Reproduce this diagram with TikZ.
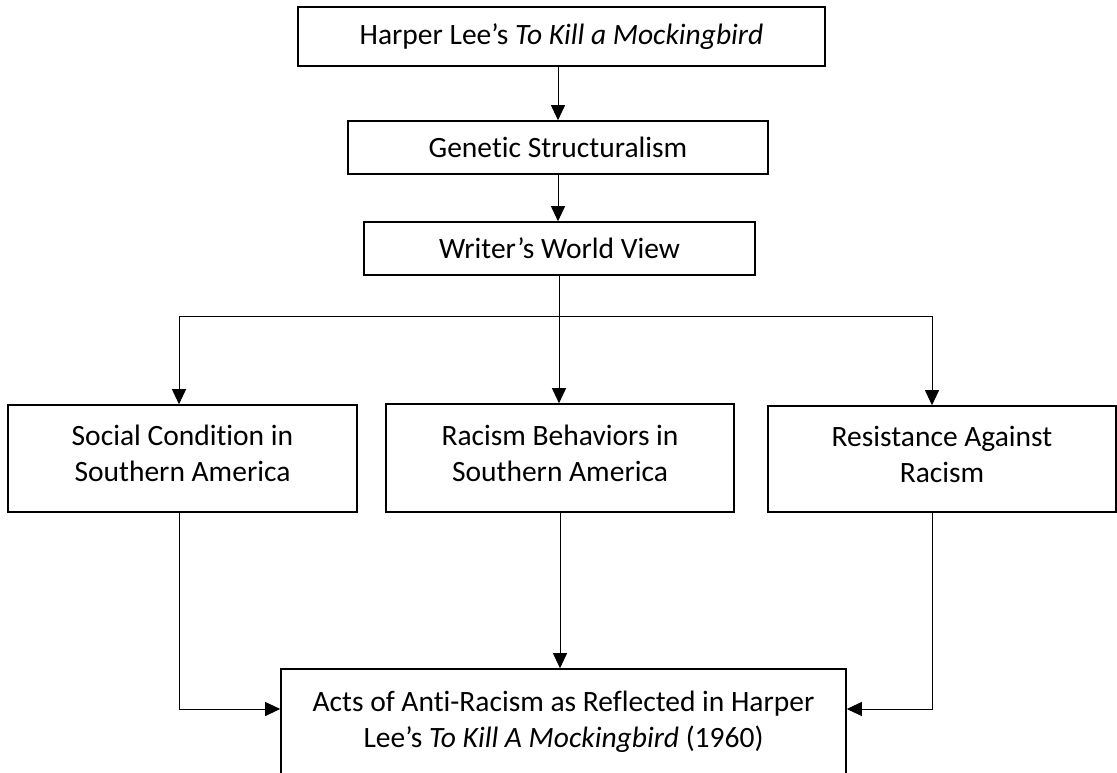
\documentclass[tikz,border=0pt]{standalone}
\usepackage{fontspec}
\setmainfont[Ligatures=CommonOff]{Carlito}
\usepackage{tikz}
\usetikzlibrary{arrows.meta,positioning}

\begin{document}
\begin{tikzpicture}[x=1pt,y=-1pt,inner sep=0pt,
  box/.style={rectangle,draw=black,line width=1.6pt,align=center,font=\fontsize{29.5}{36}\selectfont},
  link/.style={draw=black,line width=0.9pt},
  arr/.style={link,-{Triangle[length=15pt,width=14pt]}}]
\useasboundingbox (0,0) rectangle (1117,773);
\clip (0,0) rectangle (1117,773);
%Boxes
\node at (561.5,36.5) [box,minimum width=527,minimum height=59] (Novel) {Harper Lee’s \textit{To Kill a Mockingbird}};
\node at (558,147.5) [box,minimum width=420,minimum height=53] (Theory) {Genetic Structuralism};
\node at (559.5,248.5) [box,minimum width=391,minimum height=53] (WorldView) {Writer’s World View};
\node at (182.5,458.5) [box,minimum width=349,minimum height=107] (Social) {Social Condition in\\Southern America\\[-26pt]\mbox{}};
\node at (560,458) [box,minimum width=348,minimum height=108] (Racism) {Racism Behaviors in\\Southern America\\[-26pt]\mbox{}};
\node at (942,459) [box,minimum width=348,minimum height=106] (Resistance) {Resistance Against\\Racism\\[-26pt]\mbox{}};
\node at (563.5,722) [box,minimum width=565,minimum height=106] (Acts) {Acts of Anti-Racism as Reflected in Harper\\Lee’s \textit{To Kill A Mockingbird} (1960)};
%Branch points
\coordinate (Split) at (559,316);
\coordinate (SplitL) at (179,316);
\coordinate (SplitR) at (932,316);
\coordinate (JoinL) at (179,709);
\coordinate (JoinR) at (932,709);
%connections
\draw [arr] (Novel.south -| Theory.north) -- (Theory.north);
\draw [arr] (Theory.south) -- (Theory.south |- WorldView.north);
\draw [link] (WorldView.south -| Split) -- (Split);
\draw [link] (SplitL) -- (SplitR);
\draw [arr] (SplitL) -- (SplitL |- Social.north);
\draw [arr] (Split) -- (Split |- Racism.north);
\draw [arr] (SplitR) -- (SplitR |- Resistance.north);
\draw [arr] (SplitL |- Social.south) -- (JoinL) -- (JoinL -| Acts.west);
\draw [arr] (Racism.south) -- (Racism.south |- Acts.north);
\draw [arr] (SplitR |- Resistance.south) -- (JoinR) -- (JoinR -| Acts.east);
\end{tikzpicture}
\end{document}
